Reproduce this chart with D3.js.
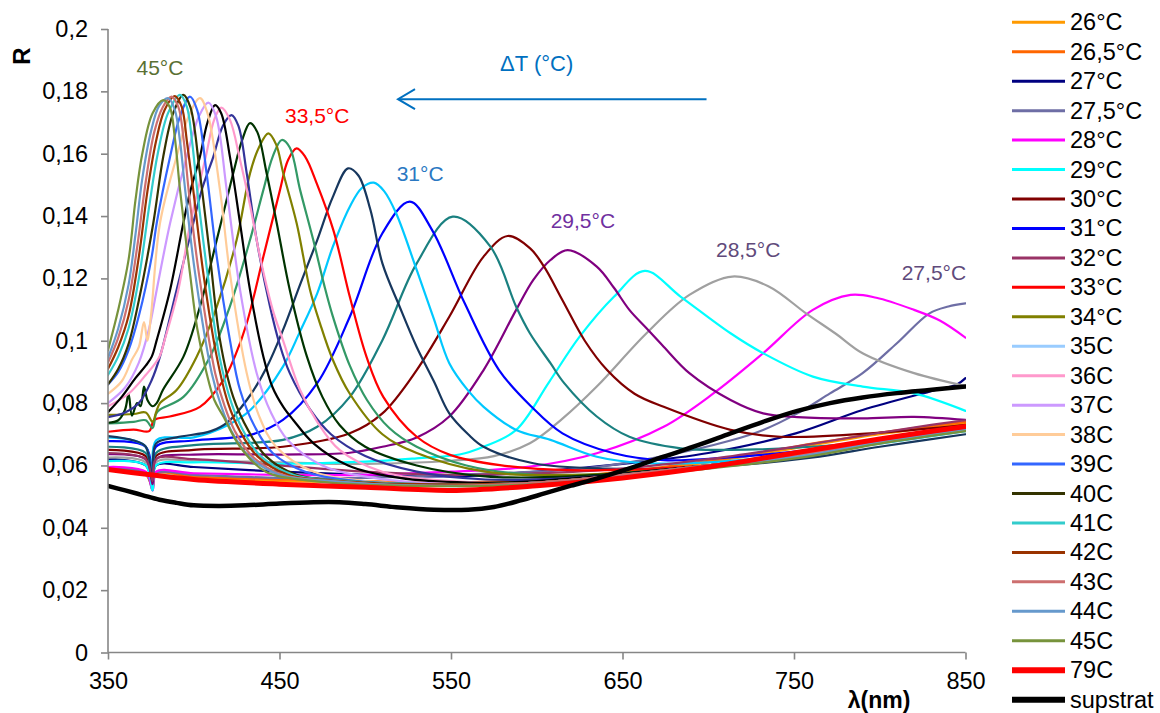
<!DOCTYPE html>
<html><head><meta charset="utf-8">
<script src="https://cdn.jsdelivr.net/npm/d3@7"></script>
<style>body{margin:0;background:#fff}svg{display:block;font-family:"Liberation Sans",Arial,sans-serif}</style>
</head><body><svg id="c" width="1160" height="713"></svg>
<script>
const xTicks=[350,450,550,650,750,850];
const yTicks=[0,0.02,0.04,0.06,0.08,0.1,0.12,0.14,0.16,0.18,0.2];

// [wavelength nm, R]
const T26=[[350,.059],[372,.057],[376,.053],[378,.057],[400,.056],[450,.055],[500,.0545],[550,.054],[600,.055],[650,.0575],[700,.061],[750,.0655],[800,.070],[850,.0735]];
const T26_5=[[350,.0595],[372,.0575],[376,.053],[378,.0575],[400,.0565],[450,.0555],[500,.055],[550,.0545],[600,.0555],[650,.058],[700,.0615],[750,.066],[800,.0705],[850,.074]];
const T27=[[350,.062],[372,.060],[376,.054],[378,.060],[400,.0595],[450,.058],[500,.057],[550,.0565],[600,.058],[650,.0605],[700,.064],[751,.0703],[790,.0778],[829,.0837],[845,.086],[850,.088]];
const T27_5=[[350,.059],[372,.0575],[376,.052],[378,.0575],[400,.057],[450,.056],[500,.056],[550,.057],[600,.058],[635,.0595],[674,.063],[713,.068],[732,.0714],[752,.0767],[771,.0831],[790,.0896],[810,.0992],[829,.1088],[840,.111],[850,.112]];
const T28=[[350,.0595],[372,.058],[376,.052],[378,.058],[400,.0575],[450,.057],[500,.057],[550,.058],[596,.0596],[635,.0639],[674,.0724],[703,.0831],[732,.096],[761,.1099],[783,.1147],[798,.1138],[820,.1099],[835,.1065],[850,.101]];
const T28_5=[[350,.0625],[372,.061],[376,.053],[378,.061],[400,.0615],[450,.061],[500,.0605],[550,.0615],[575,.063],[596,.0671],[615,.075],[635,.0853],[664,.1024],[689,.1147],[714,.1206],[735,.1175],[757,.1088],[775,.102],[790,.096],[820,.0896],[850,.0855]];
const T29=[[350,.0614],[372,.060],[376,.052],[378,.060],[400,.061],[450,.0605],[500,.0612],[530,.0623],[555,.0635],[569,.066],[588,.0714],[607,.0866],[625,.1013],[645,.1141],[663,.1224],[684,.1141],[713,.1024],[732,.096],[761,.0885],[790,.0853],[820,.0831],[850,.0775]];
const T29_5=[[350,.0636],[372,.062],[376,.054],[378,.062],[400,.0635],[450,.0635],[490,.064],[510,.066],[530,.069],[549,.0757],[569,.0906],[588,.1099],[598,.1195],[608,.1259],[618,.1291],[635,.1238],[645,.117],[654,.1099],[664,.104],[674,.0981],[689,.0896],[713,.081],[732,.0767],[752,.0755],[790,.0751],[820,.0756],[850,.0746]];
const T30=[[350,.065],[372,.063],[376,.055],[378,.063],[400,.065],[452,.066],[491,.0703],[510,.0767],[530,.0906],[549,.1077],[569,.127],[583,.1336],[596,.1297],[604,.124],[615,.113],[628,.100],[641,.0906],[657,.083],[674,.0788],[713,.0714],[742,.0692],[800,.0705],[850,.073]];
const teal551=[[350,.066],[372,.064],[376,.056],[378,.064],[400,.0665],[452,.0682],[472,.0724],[491,.082],[510,.1002],[530,.1248],[551,.1398],[573,.1302],[588,.1109],[596,.1024],[608,.0928],[616,.0864],[635,.0757],[654,.0692],[684,.0655],[713,.065],[760,.066],[800,.068],[850,.0715]];
const T31=[[350,.0678],[372,.066],[376,.057],[378,.066],[400,.068],[433,.0698],[452,.0746],[472,.0864],[491,.1077],[510,.1345],[526,.1446],[539,.1355],[558,.112],[578,.0906],[597,.0788],[615,.0703],[645,.0639],[674,.0617],[710,.0625],[760,.065],[800,.068],[850,.0725]];
const sky505=[[350,.069],[365,.068],[372,.066],[376,.056],[378,.068],[400,.069],[420,.073],[433,.0778],[452,.0917],[462,.103],[472,.1152],[481,.130],[491,.143],[498,.149],[505,.1507],[511,.148],[518,.1409],[530,.1227],[540,.107],[549,.0928],[560,.084],[569,.0788],[588,.0714],[608,.0682],[635,.0628],[664,.0607],[700,.061],[760,.064],[800,.067],[850,.071]];
const navy490=[[350,.0694],[365,.068],[372,.066],[376,.055],[378,.067],[390,.069],[410,.071],[420,.074],[433,.0826],[443,.092],[452,.1034],[462,.118],[472,.1323],[481,.146],[490,.1553],[496,.153],[503,.142],[510,.1248],[520,.111],[530,.098],[540,.087],[549,.0767],[560,.070],[569,.066],[598,.0607],[640,.059],[700,.0595],[760,.0625],[800,.066],[850,.070]];
const T32=[[350,.064],[372,.062],[376,.055],[378,.062],[400,.062],[450,.060],[500,.058],[550,.057],[600,.0575],[650,.059],[700,.062],[750,.066],[800,.0705],[830,.073],[850,.0745]];
const T33=[[350,.0708],[365,.0715],[374,.071],[377,.0746],[386,.0757],[403.6,.0788],[417.3,.0874],[424,.095],[430.9,.1056],[440.6,.127],[450.3,.1484],[455,.158],[460,.1617],[465,.159],[471.7,.1505],[481.4,.1355],[491,.1141],[500.7,.0949],[510.5,.082],[530,.0692],[549.4,.0634],[578.5,.0601],[620,.0585],[700,.060],[760,.064],[800,.068],[850,.0725]];
const sea451=[[350,.0735],[365,.074],[372,.0745],[376,.072],[378,.0765],[380,.0778],[394,.082],[409.5,.0949],[421,.1109],[432.8,.1323],[440.6,.1484],[446,.159],[451.3,.1644],[456,.162],[462,.1484],[469.7,.1323],[476,.118],[481,.108],[491,.092],[501,.081],[514,.072],[530,.066],[559,.060],[600,.057],[700,.0595],[760,.0635],[800,.0675],[850,.0715]];
const T34=[[350,.0762],[365,.0765],[372,.077],[376,.074],[378,.077],[380.3,.080],[390,.0842],[401.7,.0949],[413.4,.1109],[425,.1323],[432.8,.1537],[438,.162],[443.5,.1665],[448,.163],[452.2,.1537],[460,.1377],[467.8,.1163],[473.6,.1056],[481,.094],[491,.083],[510,.070],[530,.064],[570,.058],[620,.057],[700,.0595],[760,.0635],[800,.0675],[850,.0715]];
const green434=[[350,.0737],[356,.0745],[360,.078],[362,.083],[364,.076],[367,.080],[369,.079],[371,.0853],[373,.081],[376,.079],[378.4,.080],[382,.0842],[394,.0949],[403.6,.1109],[413.4,.1323],[423,.1537],[428,.164],[432.8,.1698],[437,.167],[442.5,.1537],[448.4,.1377],[456,.1163],[466,.0949],[475,.082],[485,.073],[500,.066],[530,.060],[570,.0565],[620,.0565],[700,.060],[760,.064],[800,.068],[850,.072]];
const slate422=[[350,.0755],[360,.077],[368,.080],[375.5,.0874],[380.3,.0949],[390,.1163],[399.7,.1377],[405,.149],[411.4,.159],[417,.169],[422,.1724],[426,.169],[430.9,.1537],[436.7,.1323],[444.5,.1109],[450,.099],[456,.0896],[468,.0778],[480,.070],[500,.063],[530,.058],[570,.0555],[620,.056],[700,.060],[760,.064],[800,.068],[850,.072]];
const T35=[[350,.0585],[372,.057],[376,.055],[378,.057],[400,.0555],[450,.054],[500,.053],[550,.052],[600,.0535],[650,.056],[700,.0595],[750,.064],[800,.0685],[850,.0725]];
const T36=[[350,.079],[362,.083],[372,.089],[380,.0949],[383,.1002],[391,.1163],[398,.1377],[407,.159],[412,.171],[416,.1748],[421,.171],[427,.158],[433,.143],[438.6,.127],[446,.11],[452,.1002],[462,.0842],[472,.074],[485,.065],[510,.058],[550,.055],[600,.0545],[700,.060],[760,.064],[800,.068],[850,.072]];
const black413=[[350,.0771],[358,.082],[366,.088],[372,.092],[375.5,.0949],[378.4,.1002],[386.2,.1163],[393.9,.1377],[398,.148],[403.6,.159],[408,.170],[412.4,.1756],[416,.173],[421.1,.159],[427,.1377],[432.8,.1163],[440.6,.0949],[446,.085],[452.2,.0788],[458,.0746],[470,.067],[490,.060],[520,.056],[560,.0545],[600,.055],[700,.060],[760,.064],[800,.068],[850,.072]];
const T37=[[350,.080],[360,.085],[368,.093],[374,.104],[378.4,.1163],[386.2,.1377],[395.9,.159],[403,.172],[408.5,.1764],[413,.172],[419.2,.1484],[427,.1163],[436.7,.0896],[445,.077],[455,.068],[475,.060],[505,.056],[550,.054],[600,.0545],[700,.060],[760,.064],[800,.068],[850,.072]];
const T38=[[350,.083],[358,.087],[364,.094],[368,.098],[371,.106],[373,.100],[375,.1077],[380.3,.1377],[390,.159],[397,.172],[403.6,.1778],[408,.173],[415.3,.1484],[421.1,.1216],[430.9,.0896],[438,.076],[448,.066],[470,.058],[500,.055],[540,.054],[600,.0545],[700,.060],[760,.064],[800,.068],[850,.072]];
const T39=[[350,.086],[356,.09],[362,.097],[368,.108],[375.5,.127],[378.4,.1377],[386.2,.159],[392,.172],[397.8,.1783],[402,.174],[407.5,.1537],[413.4,.127],[421.1,.1002],[427,.0842],[436,.072],[446,.064],[465,.058],[495,.055],[540,.054],[600,.0545],[700,.060],[760,.064],[800,.068],[850,.072]];
const T40=[[350,.086],[356,.091],[362,.099],[368,.113],[376.4,.1377],[382.2,.159],[388,.173],[393.9,.1789],[398,.175],[403.6,.1537],[409.5,.127],[415.3,.1002],[423,.082],[432,.071],[442,.063],[460,.057],[490,.055],[540,.054],[600,.0545],[700,.060],[760,.064],[800,.068],[850,.072]];
const T41=[[350,.089],[356,.095],[362,.104],[368,.12],[374,.143],[379,.16],[385,.173],[392,.1789],[396,.175],[399,.164],[402,.1484],[408,.1216],[415,.0949],[422,.080],[429,.071],[439,.063],[458,.057],[490,.055],[540,.054],[600,.0545],[700,.060],[760,.064],[800,.068],[850,.0725]];
const T42=[[350,.091],[356,.098],[362,.108],[368,.127],[373,.148],[378,.164],[383,.174],[389,.1785],[393,.175],[396,.164],[399.7,.1484],[405.6,.1216],[413.4,.0949],[420,.080],[427,.071],[437,.063],[455,.057],[485,.055],[530,.054],[600,.0545],[700,.060],[760,.064],[800,.068],[850,.072]];
const T43=[[350,.093],[356,.101],[362,.113],[367,.13],[372,.151],[377,.167],[382,.175],[387,.1783],[391,.175],[394,.165],[397,.1484],[403,.1216],[412.5,.0896],[418,.079],[424,.071],[434,.063],[452,.057],[480,.055],[530,.0535],[600,.0545],[700,.060],[760,.064],[800,.068],[850,.072]];
const T44=[[350,.0945],[356,.104],[362,.118],[366,.134],[370,.152],[375,.167],[380,.1755],[385.2,.1778],[389,.174],[392,.164],[395,.1484],[400.8,.1216],[410.5,.0896],[416,.079],[422,.071],[432,.063],[450,.057],[480,.055],[530,.0535],[600,.054],[700,.0595],[760,.0635],[800,.0675],[850,.0715]];
const T45=[[350,.097],[356,.11],[362,.126],[366,.145],[370,.160],[376,.173],[382.2,.1772],[386,.175],[389,.165],[392,.1484],[397.8,.1216],[402,.104],[407.5,.0896],[412,.081],[417.3,.0757],[427,.066],[442,.058],[470,.055],[520,.0535],[600,.054],[700,.059],[760,.063],[800,.067],[850,.071]];
const T79=[[350,.0587],[375,.057],[400,.0555],[450,.054],[500,.053],[550,.052],[600,.0535],[650,.056],[700,.0595],[750,.064],[800,.0685],[850,.0725]];
const supstrat=[[350,.0534],[360,.052],[370,.0505],[380,.049],[390,.048],[400,.0472],[415,.047],[430,.0472],[450,.0478],[470,.0482],[485,.0482],[500,.0476],[520,.0465],[540,.0458],[560,.0458],[575,.0467],[590,.0487],[605,.0511],[620,.0535],[635,.0558],[655,.0592],[674,.0628],[694,.0665],[713,.0703],[732,.074],[752,.0775],[771,.0800],[790,.0818],[810,.0832],[829,.0842],[850,.0853]];

// draw order: [data, color, kind, legend label or null]
const series=[
 [T26,"#FF9A00","n","26°C"],[T26_5,"#FF6600","n","26,5°C"],[T27,"#000080","n","27°C"],[T35,"#99CCFF","n","35C"],
 [T27_5,"#6E6EA5","n","27,5°C"],[T28,"#FF00FF","n","28°C"],[T28_5,"#A0A0A0","n",null],[T29,"#00FFFF","n","29°C"],
 [T29_5,"#800080","n",null],[T30,"#800000","n","30°C"],[teal551,"#1A8080","n",null],[T31,"#0000FF","n","31°C"],
 [sky505,"#00C8FF","n",null],[navy490,"#17375E","n",null],[T32,"#993366","n","32°C"],[T33,"#FF0000","n","33°C"],
 [sea451,"#339966","n",null],[T34,"#808000","n","34°C"],[green434,"#003300","n",null],[slate422,"#333399","n",null],
 [T36,"#FF99CC","n","36C"],[black413,"#000000","n",null],[T37,"#CC99FF","n","37C"],[T38,"#FFCC99","n","38C"],
 [T39,"#3366FF","n","39C"],[T40,"#333300","n","40C"],[T41,"#33CCCC","n","41C"],[T42,"#993300","n","42C"],
 [T43,"#CD6F6F","n","43C"],[T44,"#6699CC","n","44C"],[T45,"#77933C","n","45C"],
 [T79,"#FF0000","t","79C"],[supstrat,"#000000","t","supstrat"]
];
const legendOrder=["26°C","26,5°C","27°C","27,5°C","28°C","29°C","30°C","31°C","32°C","33°C","34°C","35C","36C","37C","38C","39C","40C","41C","42C","43C","44C","45C","79C","supstrat"];

// annotations: [text, wavelength, R, color, anchor]
const notes=[["45°C",380.3,.1852,"#5A7033","middle"],["33,5°C",453.2,.1698,"#FF0000","start"],["31°C",518.3,.1512,"#2A78C2","start"],
 ["29,5°C",608.1,.1362,"#7030A0","start"],["28,5°C",704.5,.1269,"#604A7B","start"],["27,5°C",812.8,.1195,"#604A7B","start"],
 ["ΔT (°C)",578.6,.1865,"#0070C0","start"]];
const arrowFrom=[699,.1775], arrowTo=[519.1,.1775];

const svg=d3.select("#c");
const x=d3.scaleLinear([350,850],[108,965.5]);
const y=d3.scaleLinear([0,0.2],[652.5,29]);

svg.append("defs").append("clipPath").attr("id","clip").append("rect")
 .attr("x",108).attr("y",20).attr("width",858).attr("height",633);

const line=d3.line().x(d=>x(d[0])).y(d=>y(d[1])).curve(d3.curveCatmullRom.alpha(0.5));
const g=svg.append("g").attr("clip-path","url(#clip)");
series.forEach(s=>{
 g.append("path").attr("d",line(s[0])).attr("fill","none").attr("stroke",s[1])
  .attr("stroke-width",s[2]==="t"?(s[3]==="79C"?5:4.5):2.2).attr("stroke-linejoin","round").attr("stroke-linecap","round");
});

const fmt=d=>d===0?"0":d3.format(".2~f")(d).replace(".",",");
const ya=svg.append("g").attr("transform","translate(108,0)")
 .call(d3.axisLeft(y).tickValues(yTicks).tickSize(7).tickPadding(13).tickFormat(fmt));
const xa=svg.append("g").attr("transform","translate(0,652.5)")
 .call(d3.axisBottom(x).tickValues(xTicks).tickSize(7).tickPadding(13).tickFormat(d3.format("d")));
[ya,xa].forEach(a=>{
 a.selectAll("path,line").attr("stroke","#868686").attr("stroke-width",1.6);
 a.selectAll("text").attr("font-size",23.5).attr("fill","#000").attr("font-family","Liberation Sans, Arial, sans-serif");
});
ya.select(".domain").attr("d","M0,29V652.5");
xa.select(".domain").attr("d","M108,0H965.5");

svg.append("text").attr("transform","translate(30,56) rotate(-90)").attr("text-anchor","middle")
 .attr("font-size",24).attr("font-weight","bold").text("R");
svg.append("text").attr("x",879).attr("y",708).attr("text-anchor","middle")
 .attr("font-size",23).attr("font-weight","bold").text("λ(nm)");

notes.forEach(n=>{
 svg.append("text").attr("x",x(n[1])).attr("y",y(n[2])).attr("text-anchor",n[4])
  .attr("fill",n[3]).attr("font-size",n[0].startsWith("Δ")?22:21).text(n[0]);
});
const ax0=x(arrowFrom[0]),ax1=x(arrowTo[0]),ay=y(arrowFrom[1]);
svg.append("line").attr("x1",ax0).attr("y1",ay).attr("x2",ax1+1).attr("y2",ay).attr("stroke","#0070C0").attr("stroke-width",2);
svg.append("path").attr("d",`M${ax1+17},${ay-10}L${ax1},${ay}L${ax1+17},${ay+10}`).attr("fill","none")
 .attr("stroke","#0070C0").attr("stroke-width",2).attr("stroke-linejoin","miter");

const lg=svg.append("g");
legendOrder.forEach((lab,i)=>{
 const s=series.find(d=>d[3]===lab);
 const cy=22.3+i*29.45;
 lg.append("line").attr("x1",1012).attr("x2",1065).attr("y1",cy).attr("y2",cy)
  .attr("stroke",s[1]).attr("stroke-width",s[2]==="t"?6:3);
 lg.append("text").attr("x",1070).attr("y",cy+8).attr("font-size",23.5).text(lab);
});
</script></body></html>
